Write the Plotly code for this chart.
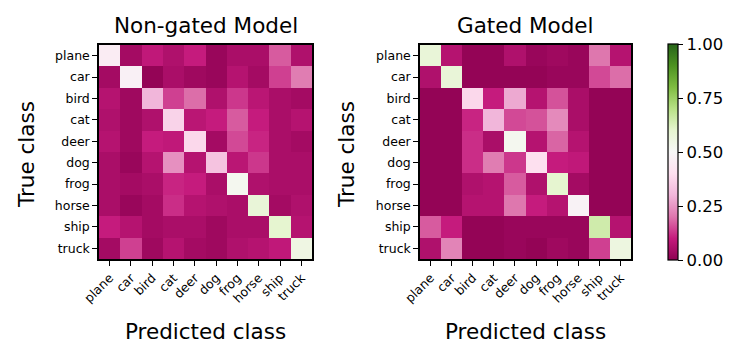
import plotly.graph_objects as go

CLASSES = ["plane", "car", "bird", "cat", "deer", "dog", "frog", "horse", "ship", "truck"]

# rows = true class, columns = predicted class (normalised per row)
NON_GATED = [
    [0.45, 0.04, 0.09, 0.06, 0.10, 0.02, 0.05, 0.05, 0.17, 0.06],
    [0.04, 0.47, 0.01, 0.05, 0.03, 0.02, 0.07, 0.04, 0.14, 0.21],
    [0.07, 0.03, 0.30, 0.14, 0.19, 0.06, 0.13, 0.08, 0.05, 0.04],
    [0.06, 0.03, 0.06, 0.37, 0.08, 0.10, 0.17, 0.10, 0.05, 0.07],
    [0.07, 0.03, 0.10, 0.09, 0.38, 0.04, 0.15, 0.11, 0.05, 0.04],
    [0.05, 0.02, 0.07, 0.24, 0.07, 0.33, 0.08, 0.13, 0.05, 0.05],
    [0.05, 0.04, 0.05, 0.11, 0.10, 0.05, 0.52, 0.06, 0.05, 0.05],
    [0.05, 0.02, 0.04, 0.12, 0.07, 0.06, 0.05, 0.58, 0.04, 0.06],
    [0.10, 0.07, 0.04, 0.05, 0.05, 0.03, 0.05, 0.05, 0.60, 0.07],
    [0.04, 0.14, 0.03, 0.07, 0.04, 0.03, 0.06, 0.07, 0.09, 0.55],
]

GATED = [
    [0.58, 0.07, 0.01, 0.01, 0.06, 0.02, 0.03, 0.02, 0.20, 0.07],
    [0.06, 0.58, 0.01, 0.01, 0.01, 0.01, 0.02, 0.02, 0.15, 0.19],
    [0.01, 0.01, 0.38, 0.10, 0.28, 0.07, 0.16, 0.05, 0.01, 0.01],
    [0.01, 0.01, 0.11, 0.30, 0.15, 0.16, 0.23, 0.05, 0.01, 0.01],
    [0.01, 0.01, 0.12, 0.05, 0.52, 0.07, 0.18, 0.07, 0.01, 0.01],
    [0.01, 0.01, 0.12, 0.21, 0.13, 0.40, 0.10, 0.09, 0.01, 0.01],
    [0.01, 0.01, 0.06, 0.07, 0.17, 0.06, 0.60, 0.04, 0.01, 0.01],
    [0.01, 0.01, 0.07, 0.07, 0.20, 0.10, 0.07, 0.48, 0.01, 0.01],
    [0.17, 0.10, 0.01, 0.01, 0.02, 0.02, 0.02, 0.02, 0.65, 0.07],
    [0.06, 0.22, 0.01, 0.01, 0.02, 0.01, 0.03, 0.02, 0.14, 0.56],
]

CBAR_TICKS = [0, 0.25, 0.5, 0.75, 1.0]

# matplotlib PiYG
PIYG = ["#8e0152", "#c51b7d", "#de77ae", "#f1b6da", "#fde0ef", "#f7f7f7",
        "#e6f5d0", "#b8e186", "#7fbc41", "#4d9221", "#276419"]
SCALE = [[i / 10, c] for i, c in enumerate(PIYG)]

FONT = "DejaVu Sans"
W, H = 748, 357


def px_x(a, b):
    return [a / W, b / W]


def px_y(top, bottom):
    return [1 - bottom / H, 1 - top / H]


fig = go.Figure()
fig.add_heatmap(z=NON_GATED, x=CLASSES, y=CLASSES, colorscale=SCALE,
                zmin=0, zmax=1, xaxis="x", yaxis="y", showscale=False)
fig.add_heatmap(z=GATED, x=CLASSES, y=CLASSES, colorscale=SCALE,
                zmin=0, zmax=1, xaxis="x2", yaxis="y2",
                colorbar=dict(x=668 / W, xanchor="left", y=1 - 44 / H, yanchor="top",
                              len=216 / H, lenmode="fraction", thickness=10,
                              xpad=0, ypad=0,
                              outlinewidth=1.2, outlinecolor="black",
                              tickvals=CBAR_TICKS,
                              ticktext=[f"{v:.2f}" for v in CBAR_TICKS],
                              ticks="outside", ticklen=5, tickwidth=1.2, tickcolor="black",
                              tickfont=dict(size=16.5, color="black")))

ax = dict(showline=True, mirror=True, linecolor="black", linewidth=1.5,
          ticks="outside", ticklen=5, tickwidth=1.2, tickcolor="black",
          tickfont=dict(size=12.5, color="black"), showgrid=False, zeroline=False,
          automargin=False)
xt = dict(ax, tickangle=-45)
yt = dict(ax, autorange="reversed")

TXT = dict(size=21.5, color="black")


def label(text, x, y, angle=0):
    return dict(text=text, x=x / W, y=1 - y / H, xref="paper", yref="paper",
                showarrow=False, font=TXT, textangle=angle,
                xanchor="center", yanchor="middle")


fig.update_layout(
    width=W, height=H, margin=dict(l=0, r=0, t=0, b=0, autoexpand=False),
    paper_bgcolor="white", plot_bgcolor="white",
    font=dict(family=FONT, color="black"),
    xaxis=dict(xt, domain=px_x(99, 312), anchor="y"),
    yaxis=dict(yt, domain=px_y(45, 259), anchor="x"),
    xaxis2=dict(xt, domain=px_x(420, 631), anchor="y2"),
    yaxis2=dict(yt, domain=px_y(45, 259), anchor="x2"),
    annotations=[
        label("Non-gated Model", 205.5, 26),
        label("Gated Model", 525.5, 26),
        label("Predicted class", 205.5, 331),
        label("Predicted class", 525.5, 331),
        label("True class", 26, 155, -90),
        label("True class", 346, 155, -90),
    ],
)

# drop the browser's default 8px body margin so the figure sits at the page origin
fig.write_html("out.html", config={"displayModeBar": False},
               post_script="document.body.style.margin='0';")
